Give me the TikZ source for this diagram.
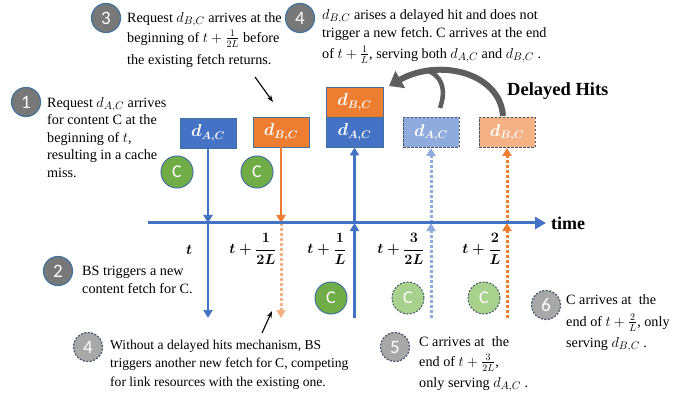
\documentclass[tikz,border=0pt]{standalone}
\usepackage{amsmath}
\usepackage{fontspec}
\setmainfont{Liberation Serif}
\newfontfamily\numfont{Carlito}
\usetikzlibrary{arrows.meta,calc}

\definecolor{cblue}{HTML}{4472C4}
\definecolor{corange}{HTML}{ED7D31}
\definecolor{clblue}{HTML}{8FAADC}
\definecolor{clorange}{HTML}{F4B183}
\definecolor{cgreen}{HTML}{70AD47}
\definecolor{clgreen}{HTML}{A9D18E}
\definecolor{cgray}{HTML}{787878}
\definecolor{clgray}{HTML}{A8A8A8}
\definecolor{cedge}{HTML}{41719C}
\definecolor{cdash}{HTML}{44546A}
\definecolor{cbend}{HTML}{5E5E5E}

% a request symbol set slightly larger than the running text
\newcommand\reqsym[1]{{\fontsize{15.5}{17.5}\selectfont$d_{#1}$}}

\tikzset{
  reqbox/.style={minimum width=56pt, minimum height=30pt, inner sep=0pt,
    text=white, font=\fontsize{16}{16}\selectfont\boldmath},
  solidbox/.style={reqbox, fill=#1, draw=cedge, line width=0.8pt},
  dashbox/.style={reqbox, fill=#1, draw=cdash, line width=1pt,
    dash pattern=on 2.5pt off 1.5pt},
  numc/.style={circle, minimum size=29pt, inner sep=0pt, fill=cgray,
    draw=cedge, line width=1.2pt, text=white,
    font=\numfont\fontsize{19}{19}\selectfont},
  numl/.style={numc, fill=clgray, draw=cdash, dash pattern=on 2pt off 1.5pt},
  cc/.style={circle, minimum size=32pt, inner sep=0pt, fill=cgreen,
    draw=cedge, line width=1pt, text=white,
    font=\numfont\fontsize{18}{18}\selectfont},
  ccl/.style={cc, fill=clgreen, draw=cdash, dash pattern=on 2pt off 1.5pt},
  desc/.style={anchor=north west, inner sep=0pt, align=left,
    font=\fontsize{14.2}{17.5}\selectfont\frenchspacing},
  tick/.style={inner sep=0pt, font=\fontsize{14}{14}\selectfont\boldmath},
  vline/.style={draw=#1, line width=2.5pt,
    -{Triangle[width=9pt,length=8pt]}},
  dline/.style={vline=#1, line width=3pt, dash pattern=on 3pt off 2pt},
  bend/.style={draw=cbend, line width=#1},
  pointer/.style={draw=black, line width=1.1pt,
    -{Stealth[length=7pt,width=5pt]}},
}

\begin{document}
\begin{tikzpicture}[x=1pt,y=-1pt]
\useasboundingbox (0,0) rectangle (694,401);

% time axis and the points where the fetch lines meet it
\coordinate (axL) at (148,223);
\coordinate (axR) at (546,223);
\coordinate (x1) at (208,223);
\coordinate (x2) at (281,223);
\coordinate (x3) at (354.5,223);
\coordinate (x4) at (431,223);
\coordinate (x5) at (507,223);
\coordinate (e1) at (208,318);
\coordinate (e2) at (281,318);
\coordinate (e3) at (354.5,318);
\coordinate (e4) at (431,318);
\coordinate (e5) at (507,318);

% request boxes
\node[solidbox=cblue]   (dac1) at (208,133) {$d_{A,C}$};
\node[solidbox=corange] (dbc1) at (281,132) {$d_{B,C}$};
\node[solidbox=corange, minimum width=57pt] (dbc2) at (354.5,102) {$d_{B,C}$};
\node[solidbox=cblue, minimum width=57pt]   (dac2) at (354.5,132) {$d_{A,C}$};
\node[dashbox=clblue]   (dac3) at (431,132.5) {$d_{A,C}$};
\node[dashbox=clorange] (dbc3) at (507,132.5) {$d_{B,C}$};

% fetch lines
\draw[vline=cblue] (dac1.south) -- (x1);
\draw[vline=cblue] (x1) -- (e1);
\draw[vline=corange] (dbc1.south) -- (x2);
\draw[dline=clorange] (x2) -- (e2);
\draw[vline=cblue] (e3) -- (x3);
\draw[vline=cblue] (x3) -- (dac2.south);
\draw[dline=clblue] (e4) -- (x4);
\draw[dline=clblue] (x4) -- (dac3.south);
\draw[dline=corange] (e5) -- (x5);
\draw[dline=corange] (x5) -- (dbc3.south);

\draw[draw=cblue, line width=3pt, -{Triangle[width=12pt,length=11pt]}] (axL) -- (axR);
\node[anchor=west, inner sep=0pt, font=\fontsize{18}{18}\selectfont\bfseries] (time) at (551,223) {time};

% tick labels
\node[tick] (t0) at (189,250) {$t$};
\node[tick] (t1) at (253,249) {$t+\dfrac{1}{2L}$};
\node[tick] (t2) at (327,249) {$t+\dfrac{1}{L}$};
\node[tick] (t3) at (401,249) {$t+\dfrac{3}{2L}$};
\node[tick] (t4) at (482,249) {$t+\dfrac{2}{L}$};

% content C
\node[cc]  (c1) at (177,172) {C};
\node[cc]  (c2) at (257,172) {C};
\node[cc]  (c3) at (331,298) {C};
\node[ccl] (c4) at (408,298) {C};
\node[ccl] (c5) at (484,298) {C};

% delayed hits bend
\draw[bend=6pt, -{Triangle[width=19pt,length=13pt]}]
  ($(dbc3.north)+(-4,-1)$) .. controls (500,72) and (438,58) .. (389,86);
\draw[bend=4.5pt] ($(dac3.north)+(9,-9)$) .. controls (447,88) and (441,75) .. (426,70);
\node[anchor=west, inner sep=0pt, font=\fontsize{18.5}{18.5}\selectfont\bfseries] (dh) at (507,91) {Delayed Hits};

% step markers
\node[numc] (n1) at (26,102) {1};
\node[numc] (n2) at (58,271) {2};
\node[numc] (n3) at (106,18) {3};
\node[numc] (n4) at (300,18) {4};
\node[numl] (n4b) at (88,347) {4};
\node[numl] (n5) at (395,347) {5};
\node[numl] (n6) at (546,305) {6};

% step descriptions
\node[desc] (d1) at (47,97) {Request \reqsym{A,C} arrives\\for content C at the\\beginning of $t$,\\resulting in a cache\\miss.};
\node[desc] (d2) at (82,266) {BS triggers a new\\content fetch for C.};
\node[desc] (d3) at (127,12) {Request \reqsym{B,C} arrives at the\\[2.5pt]beginning of $t+\frac{1}{2L}$ before\\[4.5pt]the existing fetch returns.};
\node[desc] (d4) at (322,9) {\reqsym{B,C} arises a delayed hit and does not\\[0.5pt]trigger a new fetch. C arrives at the end\\[3.5pt]of $t+\frac{1}{L}$, serving both \reqsym{A,C} and \reqsym{B,C} .};
\node[desc, font=\fontsize{13.6}{18.5}\selectfont] (d4b) at (110,339.5) {Without a delayed hits mechanism, BS\\triggers another new fetch for C, competing\\for link resources with the existing one.};
\node[desc] (d5) at (419,336) {C arrives at~ the\\[2.5pt]end of $t+\frac{3}{2L}$,\\[3.5pt]only serving \reqsym{A,C} .};
\node[desc] (d6) at (566,294) {C arrives at~ the\\[4.5pt]end of $t+\frac{2}{L}$, only\\[3.5pt]serving \reqsym{B,C} .};

% pointers
\coordinate (p3a) at (255,77);
\coordinate (p3b) at (273,102);
\coordinate (p4a) at (262,333);
\coordinate (p4b) at (272,311);
\draw[pointer] (p3a) -- (p3b);
\draw[pointer] (p4a) -- (p4b);
\end{tikzpicture}
\end{document}
